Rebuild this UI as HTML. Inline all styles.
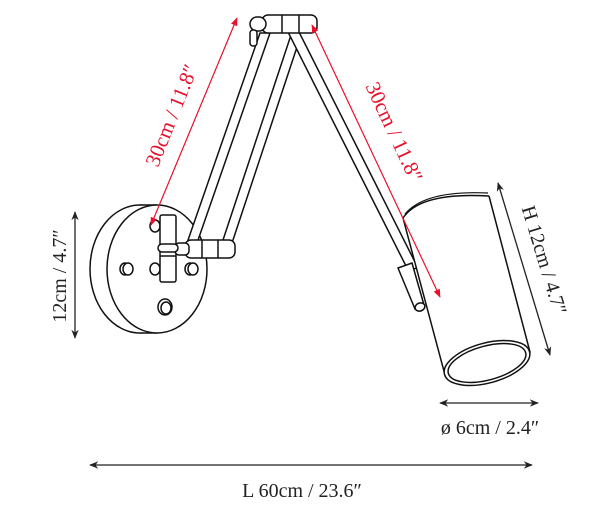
<!DOCTYPE html>
<html><head><meta charset="utf-8"><style>
html,body{margin:0;padding:0;background:#fff;}
svg{display:block}
text{font-family:"Liberation Serif",serif;}
</style></head><body>
<svg width="600" height="514" viewBox="0 0 600 514" xmlns="http://www.w3.org/2000/svg">
<defs>
<marker id="rk" viewBox="0 0 10 10" refX="9" refY="5" markerWidth="7" markerHeight="7" orient="auto-start-reverse"><path d="M0,1 L10,5 L0,9 z" fill="#e8102a"/></marker>
<marker id="bk" viewBox="0 0 10 10" refX="9" refY="5" markerWidth="7" markerHeight="7" orient="auto-start-reverse"><path d="M0,1 L10,5 L0,9 L3,5 z" fill="#222"/></marker>
</defs>
<g fill="#fff" stroke="#111" stroke-width="1.5">
<ellipse cx="140" cy="269" rx="50" ry="64"/>
<rect x="140" y="205" width="17" height="128" stroke="none"/>
<line x1="140" y1="205" x2="157" y2="205"/><line x1="140" y1="333" x2="157" y2="333"/>
<ellipse cx="157" cy="269" rx="50" ry="64"/>
<ellipse cx="125" cy="269" rx="5" ry="6"/><ellipse cx="128" cy="269" rx="5" ry="6"/>
<ellipse cx="155" cy="269" rx="5" ry="6"/>
<ellipse cx="190" cy="269" rx="5" ry="6"/><ellipse cx="193" cy="269" rx="5" ry="6"/>
<ellipse cx="165" cy="307" rx="7" ry="8"/><ellipse cx="166" cy="308" rx="5" ry="6"/>
<ellipse cx="155" cy="226" rx="5" ry="6"/>
<polygon points="187,243 197,243 270,33 260,33"/>
<polygon points="222,243 232,243 300,38 290,38"/>
<polygon points="286,28 297,28 418,268 408,270"/>
<rect x="160" y="215" width="16" height="67" rx="2"/>
<line x1="160" y1="250" x2="176" y2="250"/><line x1="160" y1="256" x2="176" y2="256"/>
<rect x="185" y="240" width="50" height="18" rx="6"/>
<line x1="202" y1="240" x2="202" y2="258"/><line x1="218" y1="240" x2="218" y2="258"/>
<rect x="175" y="243" width="14" height="12" rx="4"/>
<rect x="158" y="244" width="20" height="8" rx="4"/>
<rect x="262" y="15" width="55" height="18" rx="6"/>
<line x1="282" y1="15" x2="282" y2="33"/><line x1="299" y1="15" x2="299" y2="33"/>
<rect x="250" y="17" width="16" height="14" rx="7"/>
<rect x="250" y="30" width="7" height="16" rx="3"/>
<polygon points="398,268 412,263 424,305 415,309"/>
<ellipse cx="420" cy="307" rx="5" ry="4" transform="rotate(-20 420 307)"/>
<path d="M403,218 L445,375 L530,352 L489,196 Q420,192 403,218 Z" stroke="none"/>
<path d="M403,218 L445,375 L530,352 L489,196" fill="none"/>
<path d="M403,218 Q420,192 489,196" fill="none"/>
<path d="M405,214 Q425,190 488,193" fill="none" stroke-width="1.2"/>
<ellipse cx="487" cy="363" rx="44" ry="20" transform="rotate(-15 487 363)"/>
<ellipse cx="487" cy="363" rx="40" ry="17" transform="rotate(-15 487 363)"/>
</g>
<g stroke="#e8102a" stroke-width="1.2" fill="none">
<line x1="151" y1="225" x2="237" y2="18" marker-start="url(#rk)" marker-end="url(#rk)"/>
<line x1="312" y1="25" x2="440" y2="297" marker-start="url(#rk)" marker-end="url(#rk)"/>
</g>
<text x="0" y="0" fill="#e8102a" font-size="21" text-anchor="middle" transform="translate(178,118) rotate(-68)">30cm / 11.8″</text>
<text x="0" y="0" fill="#e8102a" font-size="21" text-anchor="middle" transform="translate(388,135) rotate(65)">30cm / 11.8″</text>
<g stroke="#222" stroke-width="1.3">
<line x1="75" y1="212" x2="75" y2="338" marker-start="url(#bk)" marker-end="url(#bk)"/>
<line x1="498" y1="183" x2="550" y2="355" marker-start="url(#bk)" marker-end="url(#bk)"/>
<line x1="440" y1="403" x2="538" y2="403" marker-start="url(#bk)" marker-end="url(#bk)"/>
<line x1="90" y1="465" x2="532" y2="465" marker-start="url(#bk)" marker-end="url(#bk)"/>
</g>
<g fill="#222" font-size="20" text-anchor="middle">
<text transform="translate(66,276) rotate(-90)">12cm / 4.7″</text>
<text transform="translate(538,262) rotate(73)">H 12cm / 4.7″</text>
<text x="490" y="434">ø 6cm / 2.4″</text>
<text x="302" y="497">L 60cm / 23.6″</text>
</g>
</svg>
</body></html>
